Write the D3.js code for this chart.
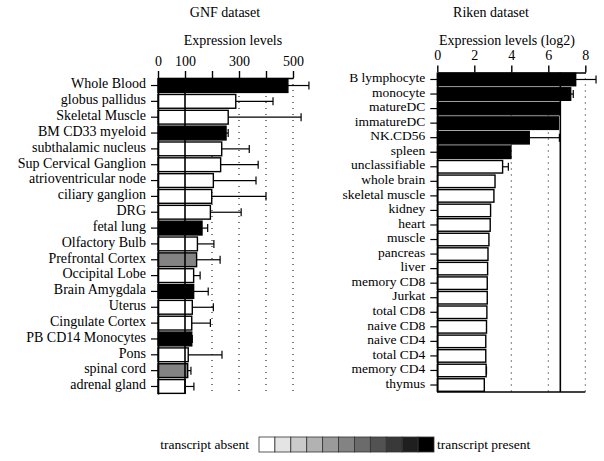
<!DOCTYPE html>
<html><head><meta charset="utf-8">
<script src="https://cdn.jsdelivr.net/npm/d3@7"></script>
<style>
html,body{margin:0;padding:0;background:#fff;}
svg{display:block;font-family:"Liberation Serif","Times New Roman",serif;}
</style></head>
<body>
<svg id="chart" width="604" height="461"></svg>
<script>
// ---- data ----
const gnfCategories = ["Whole Blood","globus pallidus","Skeletal Muscle","BM CD33 myeloid","subthalamic nucleus","Sup Cervical Ganglion","atrioventricular node","ciliary ganglion","DRG","fetal lung","Olfactory Bulb","Prefrontal Cortex","Occipital Lobe","Brain Amygdala","Uterus","Cingulate Cortex","PB CD14 Monocytes","Pons","spinal cord","adrenal gland"];
const gnfValues = [481,288,260,252,236,232,205,199,194,163,146,143,132,132,127,125,125,112,110,100];
const gnfErrorTo = [559,426,530,260,338,371,363,400,308,184,207,230,156,186,205,194,127,237,122,133];
const gnfPresence = [10,0,0,10,0,0,0,0,0,10,0,5,0,10,0,0,10,0,5,0];
const gnfTicks = [0,100,200,300,400,500];
const gnfTickLabels = ["0","100","","300","","500"];
const gnfDotted = [200,300,400,500];
const gnfThreshold = 100;

const rikenCategories = ["B lymphocyte","monocyte","matureDC","immatureDC","NK.CD56","spleen","unclassifiable","whole brain","skeletal muscle","kidney","heart","muscle","pancreas","liver","memory CD8","Jurkat","total CD8","naive CD8","naive CD4","total CD4","memory CD4","thymus"];
const rikenValues = [7.48,7.21,6.6,6.54,4.97,3.98,3.53,3.12,3.06,2.88,2.86,2.79,2.74,2.72,2.70,2.70,2.68,2.66,2.62,2.62,2.64,2.54];
const rikenErrorTo = [8.58,7.35,null,null,6.6,null,3.84,null,null,null,null,null,null,null,null,null,null,null,null,null,2.66,null];
const rikenPresence = [10,10,10,10,10,10,0,0,0,0,0,0,0,0,0,0,0,0,0,0,0,0];
const rikenTicks = [0,2,4,6,8];
const rikenDotted = [4,6,8];
const rikenThreshold = 6.65;

const legendShades = ["#ffffff","#e4e4e4","#cacaca","#b2b2b2","#9a9a9a","#838383","#6b6b6b","#525252","#393939","#1f1f1f","#000000"];
const legendLeft = "transcript absent";
const legendRight = "transcript present";

// ---- drawing ----
const svg = d3.select("#chart");
const shade = d3.scaleOrdinal().domain(d3.range(11)).range(legendShades);

function panel(o){
  const g = svg.append("g");
  const x = d3.scaleLinear().domain(o.domain).range(o.xRange);
  const y = d3.scaleBand().domain(o.cats).range(o.yRange).paddingInner(o.padIn).paddingOuter(o.padOut);
  const yTop = o.yRange[0], yBot = o.yRange[1];

  g.append("text").attr("x", o.titleX).attr("y", 17).attr("text-anchor","middle")
    .attr("font-size", 14).text(o.title);
  g.append("text").attr("x", o.labelX).attr("y", 45).attr("text-anchor","middle")
    .attr("font-size", 14).text(o.axisLabel);

  g.selectAll(".dot").data(o.dotted).join("line")
    .attr("x1", d=>x(d)).attr("x2", d=>x(d)).attr("y1", yTop).attr("y2", yBot)
    .attr("stroke","#000").attr("stroke-width",1).attr("stroke-dasharray","1,5");

  g.selectAll(".bar").data(o.cats).join("rect")
    .attr("x", x(0)).attr("y", d=>y(d))
    .attr("width", (d,i)=>x(o.values[i])-x(0)).attr("height", y.bandwidth())
    .attr("fill", (d,i)=>shade(o.presence[i]))
    .attr("stroke","#000").attr("stroke-width",1.4);

  const eb = o.cats.map((c,i)=>({c, v:o.values[i], e:o.err[i]})).filter(d=>d.e!=null);
  g.selectAll(".eb").data(eb).join("line")
    .attr("x1", d=>x(d.v)).attr("x2", d=>x(d.e))
    .attr("y1", d=>y(d.c)+y.bandwidth()/2).attr("y2", d=>y(d.c)+y.bandwidth()/2)
    .attr("stroke","#000").attr("stroke-width",1.2);
  g.selectAll(".cap").data(eb).join("line")
    .attr("x1", d=>x(d.e)).attr("x2", d=>x(d.e))
    .attr("y1", d=>y(d.c)+y.bandwidth()/2-4).attr("y2", d=>y(d.c)+y.bandwidth()/2+4)
    .attr("stroke","#000").attr("stroke-width",1.2);

  g.append("line").attr("x1", x(o.threshold)).attr("x2", x(o.threshold))
    .attr("y1", yTop).attr("y2", yBot).attr("stroke","#000").attr("stroke-width",1.6);

  const ax = d3.axisTop(x).tickValues(o.ticks).tickSize(7).tickSizeOuter(0)
    .tickFormat((d,i)=>o.tickLabels[i]);
  const axg = g.append("g").attr("transform",`translate(0,${yTop})`).call(ax);
  axg.select(".domain").attr("stroke-width",1.6);
  axg.selectAll(".tick line").attr("stroke-width",1.4);
  axg.selectAll(".tick text").attr("font-size",14).attr("font-family","Liberation Serif").attr("dy","-0.15em");

  const ay = d3.axisLeft(y).tickSize(7).tickSizeOuter(0).tickPadding(5);
  const ayg = g.append("g").attr("transform",`translate(${x(0)},0)`).call(ay);
  ayg.select(".domain").attr("stroke-width",1.6);
  ayg.selectAll(".tick line").attr("stroke-width",1.2);
  ayg.selectAll(".tick text").attr("font-size",o.labelSize).attr("font-family","Liberation Serif").attr("dy","0.2em");

  if (o.bottom){
    g.append("line").attr("x1", x(0)).attr("x2", x(o.domain[1])).attr("y1", yBot).attr("y2", yBot)
      .attr("stroke","#000").attr("stroke-width",1.6);
  }
}

panel({title:"GNF dataset", titleX:225, axisLabel:"Expression levels", labelX:233,
  domain:[0,500], xRange:[158,293], cats:gnfCategories, values:gnfValues, err:gnfErrorTo,
  presence:gnfPresence, ticks:gnfTicks, tickLabels:gnfTickLabels, dotted:gnfDotted,
  threshold:gnfThreshold, yRange:[78,394], padIn:0.13, padOut:0.04, bottom:false, labelSize:14});

panel({title:"Riken dataset", titleX:491, axisLabel:"Expression levels (log2)", labelX:507,
  domain:[0,8], xRange:[437.3,585.3], cats:rikenCategories, values:rikenValues, err:rikenErrorTo,
  presence:rikenPresence, ticks:rikenTicks, tickLabels:rikenTicks.map(String), dotted:rikenDotted,
  threshold:rikenThreshold, yRange:[72.5,392], padIn:0.14, padOut:0.05, bottom:true, labelSize:13.5});

const lg = svg.append("g");
const lx = d3.scaleBand().domain(d3.range(legendShades.length)).range([259,434]);
lg.selectAll("rect").data(legendShades).join("rect")
  .attr("x",(d,i)=>lx(i)).attr("y",437).attr("width",lx.bandwidth()).attr("height",15)
  .attr("fill",d=>d).attr("stroke","#333").attr("stroke-width",0.8);
lg.append("text").attr("x",249).attr("y",449).attr("text-anchor","end").attr("font-size",13.5).text(legendLeft);
lg.append("text").attr("x",437).attr("y",449).attr("font-size",13.5).text(legendRight);
</script>
</body></html>
